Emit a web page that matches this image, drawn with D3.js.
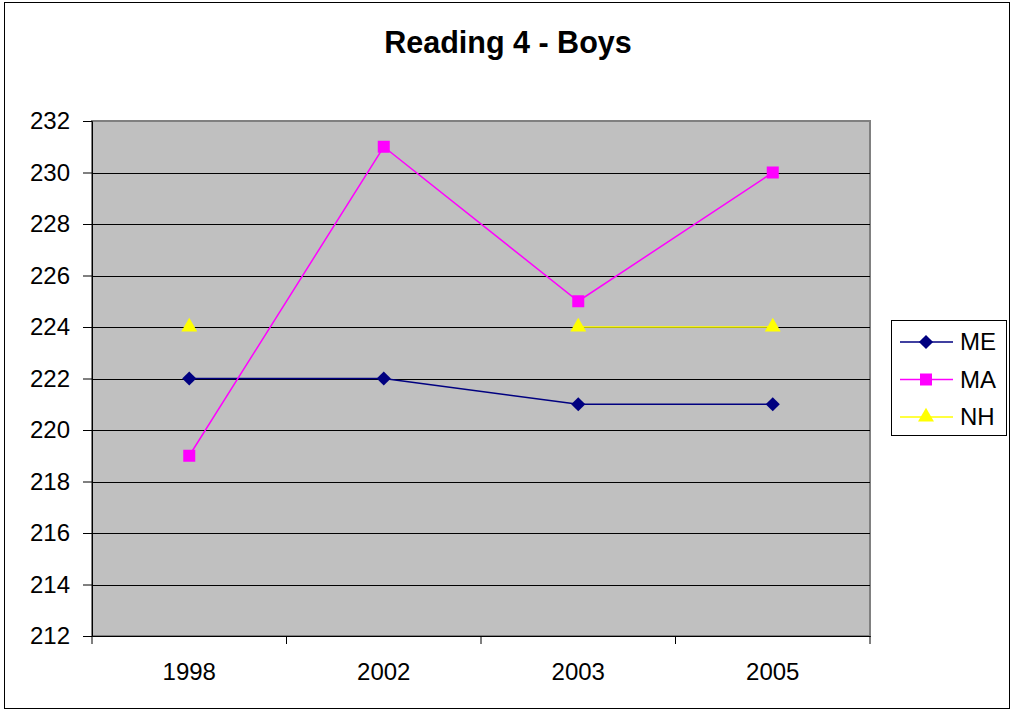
<!DOCTYPE html>
<html lang="en">
<head>
<meta charset="UTF-8">
<title>Reading 4 - Boys</title>
<style>
  body { margin: 0; background: #fff; }
  text { font-family: "Liberation Sans", Arial, sans-serif; }
</style>
</head>
<body>
<script src="https://d3js.org/d3.v7.min.js"></script>
<script>
const years = ["1998", "2002", "2003", "2005"];
const meValues = [222, 222, 221, 221];
const maValues = [219, 231, 225, 230];
const nhValues = [224, null, 224, 224];
const yTicks = [212, 214, 216, 218, 220, 222, 224, 226, 228, 230, 232];

const series = [
  { name: "ME", values: meValues, color: "#000080", shape: d3.symbolSquare, size: 100, rot: 45 },
  { name: "MA", values: maValues, color: "#ff00ff", shape: d3.symbolSquare, size: 144, rot: 0 },
  { name: "NH", values: nhValues, color: "#ffff00", shape: d3.symbolTriangle, size: 110, rot: 0 }
];

const width = 1013, height = 711;
const plot = { left: 92, right: 870, top: 121, bottom: 636 };

const svg = d3.select("body").append("svg")
  .attr("width", width)
  .attr("height", height);

// outer frame
svg.append("rect")
  .attr("x", 4.5).attr("y", 2.5)
  .attr("width", 1005).attr("height", 706)
  .attr("fill", "#fff").attr("stroke", "#000").attr("stroke-width", 1);

svg.append("text")
  .attr("x", 508).attr("y", 53)
  .attr("text-anchor", "middle")
  .style("font-size", "30.5px").style("font-weight", "bold")
  .text("Reading 4 - Boys");

const x = d3.scaleBand().domain(years).range([plot.left, plot.right]);
const y = d3.scaleLinear().domain([212, 232]).range([plot.bottom, plot.top]);

// plot background
svg.append("rect")
  .attr("x", plot.left).attr("y", plot.top)
  .attr("width", plot.right - plot.left).attr("height", plot.bottom - plot.top)
  .attr("fill", "#c0c0c0").attr("stroke", "#808080").attr("stroke-width", 2);

// gridlines
svg.append("g").selectAll("line")
  .data(yTicks.slice(1, -1))
  .enter().append("line")
  .attr("x1", plot.left).attr("x2", plot.right)
  .attr("y1", d => Math.round(y(d)) + 0.5).attr("y2", d => Math.round(y(d)) + 0.5)
  .attr("stroke", "#000").attr("stroke-width", 1);

// y axis
const yAxis = svg.append("g")
  .attr("transform", "translate(" + plot.left + ",0)")
  .call(d3.axisLeft(y).tickValues(yTicks).tickSize(9).tickPadding(13).tickFormat(d3.format("d")));
yAxis.selectAll("text").style("font-size", "24px").attr("fill", "#000");
yAxis.selectAll("line").attr("stroke", "#000");
yAxis.select(".domain").attr("stroke", "#000");

// x axis
const xAxis = svg.append("g")
  .attr("transform", "translate(0," + plot.bottom + ")")
  .call(d3.axisBottom(x).tickSize(0).tickPadding(27));
xAxis.select(".domain").attr("stroke", "#000");
xAxis.selectAll("text").style("font-size", "24px").attr("fill", "#000");
xAxis.selectAll(".sep")
  .data(d3.range(years.length + 1))
  .enter().append("line")
  .attr("class", "sep")
  .attr("x1", i => plot.left + i * x.step()).attr("x2", i => plot.left + i * x.step())
  .attr("y1", 0).attr("y2", 8)
  .attr("stroke", "#000");

const cx = d => x(d) + x.bandwidth() / 2;

series.forEach(s => {
  const pts = years.map((yr, i) => ({ yr: yr, v: s.values[i] }));
  const line = d3.line()
    .defined(d => d.v !== null)
    .x(d => cx(d.yr))
    .y(d => y(d.v));
  svg.append("path")
    .datum(pts)
    .attr("d", line)
    .attr("fill", "none")
    .attr("stroke", s.color)
    .attr("stroke-width", 1.5);
  svg.append("g").selectAll("path")
    .data(pts.filter(d => d.v !== null))
    .enter().append("path")
    .attr("transform", d => "translate(" + cx(d.yr) + "," + y(d.v) + ") rotate(" + s.rot + ")")
    .attr("d", d3.symbol().type(s.shape).size(s.size))
    .attr("fill", s.color);
});

// legend
const legend = svg.append("g");
legend.append("rect")
  .attr("x", 891.5).attr("y", 320.5)
  .attr("width", 115).attr("height", 115)
  .attr("fill", "#fff").attr("stroke", "#000");
series.forEach((s, i) => {
  const ly = 342 + i * 37.5;
  legend.append("line")
    .attr("x1", 900).attr("x2", 953)
    .attr("y1", ly).attr("y2", ly)
    .attr("stroke", s.color).attr("stroke-width", 1.5);
  legend.append("path")
    .attr("transform", "translate(926," + ly + ") rotate(" + s.rot + ")")
    .attr("d", d3.symbol().type(s.shape).size(s.size))
    .attr("fill", s.color);
  legend.append("text")
    .attr("x", 960).attr("y", ly + 8)
    .style("font-size", "24px")
    .text(s.name);
});
</script>
</body>
</html>
